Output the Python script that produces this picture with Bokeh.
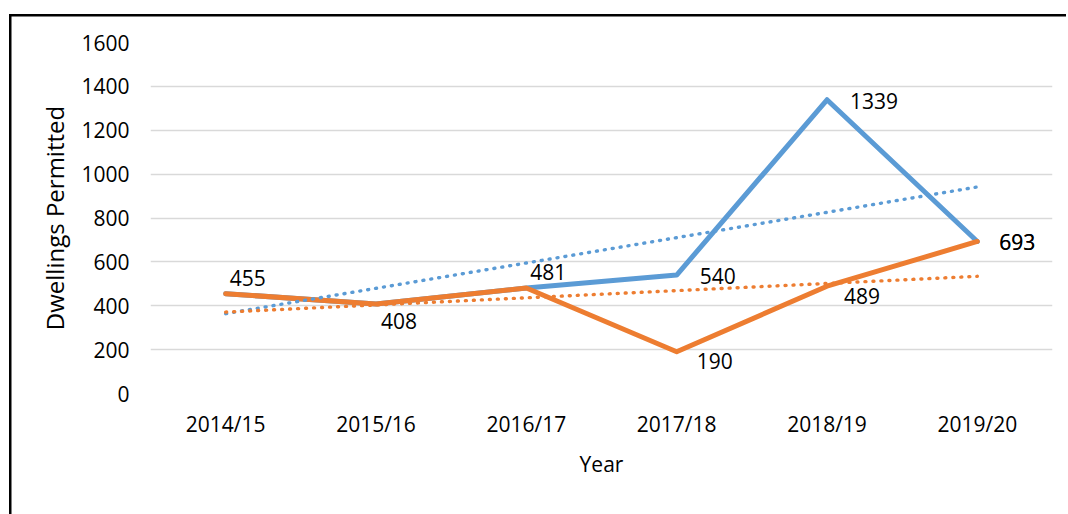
import numpy as np
from bokeh.plotting import figure
from bokeh.models import (FactorRange, Range1d, FixedTicker, Legend, LegendItem,
                          ColumnDataSource)
from bokeh.core.properties import value
from bokeh.embed import file_html
from bokeh.resources import INLINE

# ---- data ----
years = ["2014/15", "2015/16", "2016/17", "2017/18", "2018/19", "2019/20"]
permitted = [455, 408, 481, 540, 1339, 693]
permitted_excl = [455, 408, 481, 190, 489, 693]
y_ticks = [0, 200, 400, 600, 800, 1000, 1200, 1400, 1600]
series_names = ["Permitted dwellings",
                "Permitted dwelling (excluding Hinckley West and Westfield Farm)"]

# ---- styling ----
FONT = "Open Sans"
FS = "21px"
BLUE = "#5B9BD5"
ORANGE = "#ED7D31"
# label offsets in pixels (dx right, dy down) per point
blue_offsets = [(4, -16), (5, 17), (4, -16), (23, 1), (23, 1), (22, 1)]
orange_offsets = [(4, -16), (5, 17), (4, -16), (20, 9), (17, 10), (22, 1)]
orange_label_idx = [3, 4, 5]

p = figure(width=1066, height=506, frame_width=902, frame_height=351,
           output_backend="svg", toolbar_location=None,
           x_range=FactorRange(factors=years, range_padding=0),
           y_range=Range1d(0, 1600))
# outer chart frame (left and top edges visible), drawn as CSS background
p.styles = {
    "background-image": "linear-gradient(#000, #000), linear-gradient(#000, #000)",
    "background-position": "8.5px 14px, 8.5px 14px",
    "background-size": "2.5px 100%, 100% 2.5px",
    "background-repeat": "no-repeat, no-repeat",
}
p.min_border_left = 150
p.min_border_right = 14
p.min_border_top = 42
p.min_border_bottom = 113
p.outline_line_color = None
p.background_fill_color = "white"
p.border_fill_alpha = 0

# axes
for ax in (p.xaxis[0], p.yaxis[0]):
    ax.axis_line_color = None
    ax.major_tick_line_color = None
    ax.minor_tick_line_color = None
    ax.major_label_text_font = FONT
    ax.major_label_text_font_size = FS
    ax.major_label_text_color = "#000000"
    ax.axis_label_text_font = FONT
    ax.axis_label_text_font_size = FS
    ax.axis_label_text_font_style = "normal"
    ax.axis_label_text_color = "#000000"

p.yaxis.ticker = FixedTicker(ticks=y_ticks)
p.yaxis.major_label_standoff = 15
p.yaxis.axis_label = "Dwellings Permitted"
p.yaxis.axis_label_text_font_size = "24px"
p.yaxis.axis_label_standoff = 7
p.xaxis.major_tick_out = 0
p.xaxis.minor_tick_out = 0
p.xaxis.major_label_standoff = 16
p.xaxis.axis_label = "Year"
p.xaxis.axis_label_standoff = 9

p.xgrid.grid_line_color = None
p.ygrid.ticker = FixedTicker(ticks=y_ticks)
p.ygrid.grid_line_color = "#D9D9D9"
p.ygrid.grid_line_width = 1.5

# series
r_blue = p.line(years, permitted, line_color=BLUE, line_width=5,
                line_join="round", line_cap="round")
r_orange = p.line(years, permitted_excl, line_color=ORANGE, line_width=5,
                  line_join="round", line_cap="round")

# linear trend lines fitted from the data
xi = np.arange(len(years))
for vals, col in ((permitted, BLUE), (permitted_excl, ORANGE)):
    m, c = np.polyfit(xi, np.array(vals, dtype=float), 1)
    ends = [c + m * xi[0], c + m * xi[-1]]
    p.line([years[0], years[-1]], ends, line_color=col, line_width=3.4,
           line_dash="1 7", line_cap="round")

# data labels
src_b = ColumnDataSource(dict(x=years, y=permitted, t=[str(v) for v in permitted],
                              dx=[o[0] for o in blue_offsets],
                              dy=[o[1] for o in blue_offsets]))
p.text(x="x", y="y", text="t", x_offset="dx", y_offset="dy", source=src_b,
       text_font=value(FONT), text_font_size=FS, text_align="left",
       text_baseline="middle", text_color="#000000")
src_o = ColumnDataSource(dict(x=[years[i] for i in orange_label_idx],
                              y=[permitted_excl[i] for i in orange_label_idx],
                              t=[str(permitted_excl[i]) for i in orange_label_idx],
                              dx=[orange_offsets[i][0] for i in orange_label_idx],
                              dy=[orange_offsets[i][1] for i in orange_label_idx]))
p.text(x="x", y="y", text="t", x_offset="dx", y_offset="dy", source=src_o,
       text_font=value(FONT), text_font_size=FS, text_align="left",
       text_baseline="middle", text_color="#000000")

# legend
legend = Legend(items=[LegendItem(label=series_names[0], renderers=[r_blue]),
                       LegendItem(label=series_names[1], renderers=[r_orange])],
                orientation="horizontal", location="center")
legend.label_text_font = FONT
legend.label_text_font_size = "20px"
legend.label_text_color = "#000000"
legend.glyph_width = 55
legend.glyph_height = 22
legend.label_height = 22
legend.label_standoff = 4
legend.spacing = 6
legend.padding = 0
legend.margin = 0
legend.border_line_color = None
legend.background_fill_alpha = 0
p.add_layout(legend, "below")

open("out.html", "w").write(file_html(p, INLINE))
